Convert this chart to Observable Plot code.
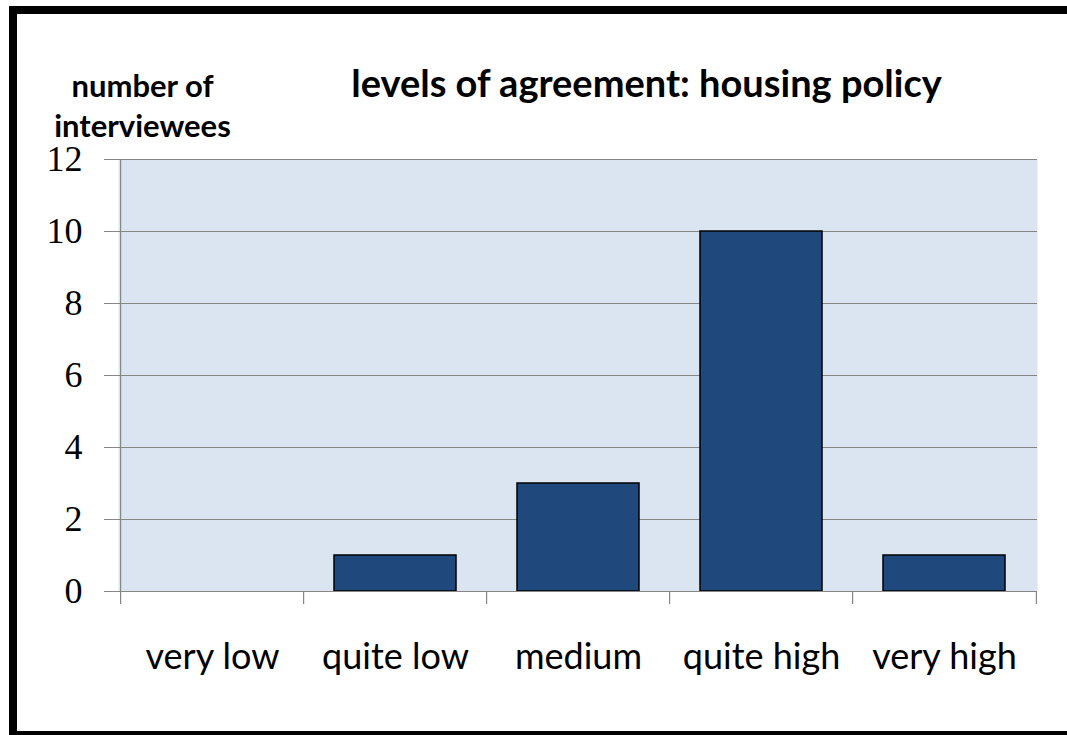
<!DOCTYPE html>
<html>
<head>
<meta charset="utf-8">
<script src="https://cdn.jsdelivr.net/npm/d3@7"></script>
<script src="https://cdn.jsdelivr.net/npm/@observablehq/plot@0.6"></script>
<style>
  html, body { margin: 0; padding: 0; background: #fff; overflow: hidden; }
  #wrap { position: relative; width: 1067px; height: 735px; overflow: hidden; background: #fff; }
  .bar { position: absolute; background: #000; }
  #bl { left: 9px; top: 6px; width: 8px; height: 729px; }
  #bt { left: 9px; top: 6px; width: 1058px; height: 8px; }
  #bb { left: 9px; top: 731px; width: 1058px; height: 4px; }
  #chart { position: absolute; left: 0; top: 0; }
</style>
</head>
<body>
<div id="wrap"><div class="bar" id="bl"></div><div class="bar" id="bt"></div><div class="bar" id="bb"></div><div id="chart"></div></div>
<script>
const categories = ["very low", "quite low", "medium", "quite high", "very high"];
const counts = [0, 1, 3, 10, 1];
const yTicks = [0, 2, 4, 6, 8, 10, 12];
const titleText = "levels of agreement: housing policy";
const yLabelLines = ["number of", "interviewees"];

const data = categories.map((c, i) => ({cat: c, n: counts[i]}));

const W = 1067, H = 735;
const mL = 118, mR = 30, mT = 159, mB = 144;
const step = (W - mL - mR) / categories.length;
const grid = "#868686";

const plot = Plot.plot({
  width: W,
  height: H,
  marginLeft: mL,
  marginRight: mR,
  marginTop: mT,
  marginBottom: mB,
  style: {background: "transparent", color: "#000", fontFamily: "Lato, sans-serif", overflow: "visible"},
  x: {domain: categories, paddingInner: 0.335, paddingOuter: 0.1675, align: 0.5},
  y: {domain: [0, 12]},
  marks: [
    Plot.frame({fill: "#dbe5f1", stroke: "none"}),
    Plot.gridY(yTicks.filter(d => d > 0), {stroke: grid, strokeOpacity: 1, strokeWidth: 1.2}),
    Plot.barY(data, {x: "cat", y: "n", fill: "#1f497d", stroke: "#000", strokeWidth: 1.5}),
    Plot.ruleY([0], {stroke: grid, strokeWidth: 1.2}),
    Plot.ruleX([categories[0]], {x: d => d, dx: -step / 2, y1: 0, y2: 12, stroke: grid, strokeWidth: 1.2}),
    Plot.ruleX(categories, {x: d => d, dx: -step / 2, y1: 0, y2: 0, insetBottom: -13, stroke: grid, strokeWidth: 1.2}),
    Plot.ruleX([categories[categories.length - 1]], {x: d => d, dx: step / 2, y1: 0, y2: 0, insetBottom: -13, stroke: grid, strokeWidth: 1.2}),
    Plot.axisY(yTicks, {tickSize: 14, tickPadding: 22, fontSize: 36, fontFamily: "Liberation Serif", stroke: grid, fill: "#000", label: null, tickFormat: d => String(d)}),
    Plot.axisX({tickSize: 0, tickPadding: 52, fontSize: 36, fontFamily: "Lato", fill: "#000", label: null}),
    Plot.text([titleText], {frameAnchor: "top-left", dx: 528, dy: -63, lineAnchor: "bottom", textAnchor: "middle", fontSize: 38, fontWeight: "bold", fontFamily: "Lato", fill: "#000"}),
    Plot.text([yLabelLines[0]], {frameAnchor: "top-left", dx: 24, dy: -63, lineAnchor: "bottom", textAnchor: "middle", fontSize: 31, fontWeight: "bold", fontFamily: "Lato", fill: "#000"}),
    Plot.text([yLabelLines[1]], {frameAnchor: "top-left", dx: 24, dy: -23, lineAnchor: "bottom", textAnchor: "middle", fontSize: 31, fontWeight: "bold", fontFamily: "Lato", fill: "#000"})
  ]
});
document.getElementById("chart").appendChild(plot);
</script>
</body>
</html>
